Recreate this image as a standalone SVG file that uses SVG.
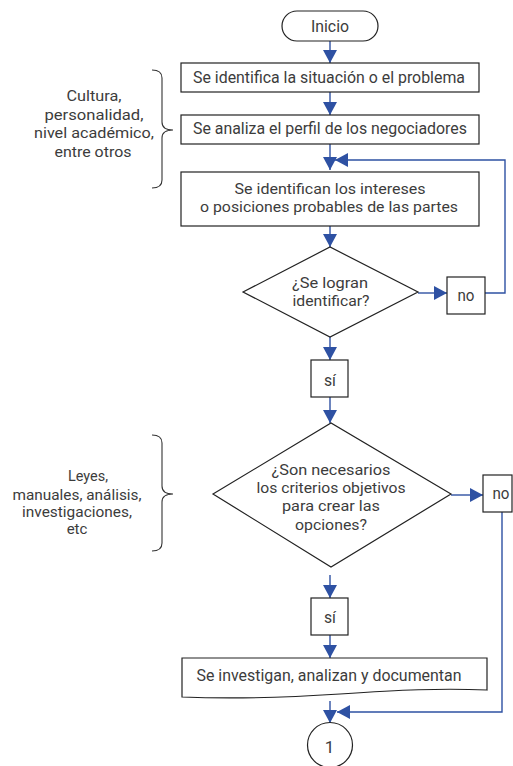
<svg xmlns="http://www.w3.org/2000/svg" width="513" height="766" viewBox="0 0 513 766">
<defs>
<style>
.box{fill:#fff;stroke:#222;stroke-width:1.2}
.t{font-family:Roboto,"Liberation Sans",sans-serif;font-size:17px;fill:#3c3c3c;text-anchor:middle}
.s{font-size:15px}
.c{fill:none;stroke:#2e51a3;stroke-width:1.4}
.br{fill:none;stroke:#333;stroke-width:1.1}
</style>
<marker id="ah" markerWidth="14" markerHeight="14" refX="13" refY="7" orient="auto" markerUnits="userSpaceOnUse">
<path d="M0,0 L13,7 L0,14 Z" fill="#2e51a3"/>
</marker>
</defs>
<rect width="513" height="766" fill="#fff"/>

<g id="connectors">
<line class="c" x1="330" y1="41" x2="330" y2="63" marker-end="url(#ah)"/>
<line class="c" x1="330" y1="92" x2="330" y2="115" marker-end="url(#ah)"/>
<line class="c" x1="330" y1="144" x2="330" y2="170" marker-end="url(#ah)"/>
<polyline class="c" points="485,293 505,293 505,160 335,160" marker-end="url(#ah)"/>
<line class="c" x1="330" y1="226" x2="330" y2="247" marker-end="url(#ah)"/>
<line class="c" x1="418" y1="293" x2="447" y2="293" marker-end="url(#ah)"/>
<line class="c" x1="330" y1="337" x2="330" y2="360" marker-end="url(#ah)"/>
<line class="c" x1="330" y1="397" x2="330" y2="423" marker-end="url(#ah)"/>
<line class="c" x1="451" y1="495" x2="483" y2="495" marker-end="url(#ah)"/>
<line class="c" x1="330" y1="575" x2="330" y2="598" marker-end="url(#ah)"/>
<line class="c" x1="330" y1="635" x2="330" y2="658" marker-end="url(#ah)"/>
<line class="c" x1="330" y1="701" x2="330" y2="723" marker-end="url(#ah)"/>
<polyline class="c" points="502,512 502,712 337,712" marker-end="url(#ah)"/>
</g>

<g id="inicio">
<rect class="box" x="282" y="11" width="96" height="30" rx="15"/>
<text class="t" x="330" y="32" textLength="38" lengthAdjust="spacingAndGlyphs">Inicio</text>
</g>

<g id="box1">
<rect class="box" x="181" y="63" width="298" height="29"/>
<text class="t" x="329" y="83" textLength="272" lengthAdjust="spacingAndGlyphs">Se identifica la situación o el problema</text>
</g>

<g id="box2">
<rect class="box" x="181" y="115" width="298" height="29"/>
<text class="t" x="330" y="134" textLength="274" lengthAdjust="spacingAndGlyphs">Se analiza el perfil de los negociadores</text>
</g>

<g id="box3">
<rect class="box" x="181" y="172" width="298" height="54"/>
<text class="t s" x="330" y="194" textLength="191" lengthAdjust="spacingAndGlyphs">Se identifican los intereses</text>
<text class="t s" x="329" y="212" textLength="258" lengthAdjust="spacingAndGlyphs">o posiciones probables de las partes</text>
</g>

<g id="brace1">
<path class="br" d="M152,70 Q162,70 162,78 V122 Q162,130 173,130 Q162,130 162,138 V180 Q162,188 152,188"/>
<text class="t s" x="94" y="101" textLength="55" lengthAdjust="spacingAndGlyphs">Cultura,</text>
<text class="t s" x="94" y="120" textLength="99" lengthAdjust="spacingAndGlyphs">personalidad,</text>
<text class="t s" x="94" y="138" textLength="120" lengthAdjust="spacingAndGlyphs">nivel académico,</text>
<text class="t s" x="93" y="157" textLength="77" lengthAdjust="spacingAndGlyphs">entre otros</text>
</g>

<g id="decision1">
<polygon class="box" points="243,292 330,247 418,292 330,337"/>
<text class="t s" x="330" y="288" textLength="76" lengthAdjust="spacingAndGlyphs">¿Se logran</text>
<text class="t s" x="331" y="306" textLength="77" lengthAdjust="spacingAndGlyphs">identificar?</text>
</g>

<g id="no1">
<rect class="box" x="447" y="277" width="38" height="37"/>
<text class="t" x="466" y="301" textLength="17" lengthAdjust="spacingAndGlyphs">no</text>
</g>

<g id="si1">
<rect class="box" x="311" y="360" width="37" height="37"/>
<text class="t" x="330" y="386" textLength="12" lengthAdjust="spacingAndGlyphs">sí</text>
</g>

<g id="brace2">
<path class="br" d="M152,435 Q162,435 162,443 V486 Q162,494 173,494 Q162,494 162,502 V543 Q162,551 152,551"/>
<text class="t s" x="88" y="481" textLength="40" lengthAdjust="spacingAndGlyphs">Leyes,</text>
<text class="t s" x="77" y="500" textLength="129" lengthAdjust="spacingAndGlyphs">manuales, análisis,</text>
<text class="t s" x="77" y="517" textLength="110" lengthAdjust="spacingAndGlyphs">investigaciones,</text>
<text class="t s" x="77" y="534">etc</text>
</g>

<g id="decision2">
<polygon class="box" points="213,494 331,423 451,494 331,567"/>
<text class="t s" x="331" y="475" textLength="119" lengthAdjust="spacingAndGlyphs">¿Son necesarios</text>
<text class="t s" x="331" y="493" textLength="149" lengthAdjust="spacingAndGlyphs">los criterios objetivos</text>
<text class="t s" x="331" y="511" textLength="98" lengthAdjust="spacingAndGlyphs">para crear las</text>
<text class="t s" x="331" y="530" textLength="72" lengthAdjust="spacingAndGlyphs">opciones?</text>
</g>

<g id="no2">
<rect class="box" x="483" y="475" width="29" height="37"/>
<text class="t" x="501" y="499" textLength="17" lengthAdjust="spacingAndGlyphs">no</text>
</g>

<g id="si2">
<rect class="box" x="311" y="598" width="37" height="37"/>
<text class="t" x="330" y="623" textLength="12" lengthAdjust="spacingAndGlyphs">sí</text>
</g>

<g id="document">
<path class="box" d="M182,658 H487 V690 C440,688 400,690 340,694 C280,698 230,699 182,697 Z"/>
<text class="t" x="329" y="681" textLength="265" lengthAdjust="spacingAndGlyphs">Se investigan, analizan y documentan</text>
</g>

<g id="connector1">
<circle class="box" cx="330" cy="745" r="22.5"/>
<text class="t" x="329.5" y="753">1</text>
</g>
</svg>
